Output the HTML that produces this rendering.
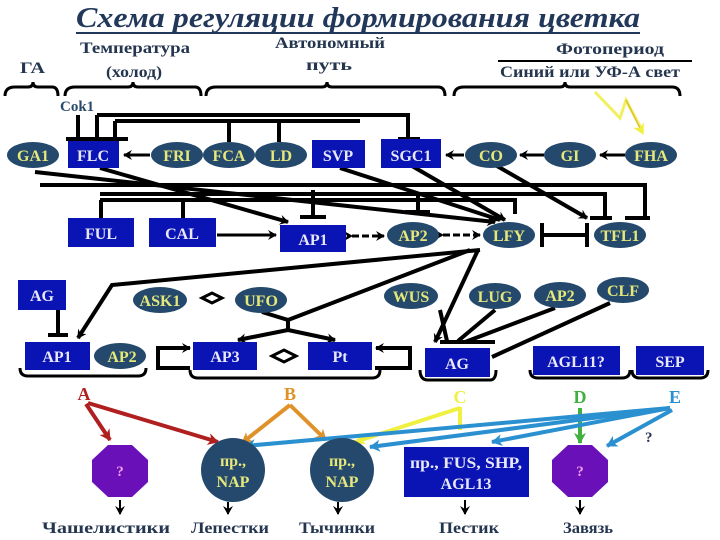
<!DOCTYPE html>
<html><head><meta charset="utf-8"><style>
body{margin:0;background:#fff}
svg{display:block}
text{font-family:"Liberation Serif",serif;font-weight:bold}
.b{fill:#0a14b4}
.e{fill:#24496c}
.wt{fill:#e8e8f8;font-size:16px;text-anchor:middle}
.yt{fill:#e6e87a;font-size:16px;text-anchor:middle}
.lb{fill:#24354f;font-size:16px}
.k{stroke:#000;stroke-width:4;fill:none}
.k3{stroke:#000;stroke-width:3;fill:none}
</style></head><body>
<svg width="720" height="540" viewBox="0 0 720 540">
<defs>
<marker id="ah" markerWidth="10" markerHeight="10" refX="8" refY="5" orient="auto" markerUnits="userSpaceOnUse"><path d="M0,0 L9,5 L0,10 L3,5z" fill="#000"/></marker>
<marker id="ar" markerWidth="12" markerHeight="12" refX="10" refY="6" orient="auto" markerUnits="userSpaceOnUse"><path d="M0,0 L11,6 L0,12 L3,6z" fill="#b02020"/></marker>
<marker id="ao" markerWidth="12" markerHeight="12" refX="10" refY="6" orient="auto" markerUnits="userSpaceOnUse"><path d="M0,0 L11,6 L0,12 L3,6z" fill="#e0922a"/></marker>
<marker id="ay" markerWidth="12" markerHeight="12" refX="10" refY="6" orient="auto" markerUnits="userSpaceOnUse"><path d="M0,0 L11,6 L0,12 L3,6z" fill="#f0f040"/></marker>
<marker id="ab" markerWidth="12" markerHeight="12" refX="10" refY="6" orient="auto" markerUnits="userSpaceOnUse"><path d="M0,0 L11,6 L0,12 L3,6z" fill="#2a90d0"/></marker>
<marker id="ag" markerWidth="12" markerHeight="12" refX="10" refY="6" orient="auto" markerUnits="userSpaceOnUse"><path d="M0,0 L11,6 L0,12 L3,6z" fill="#40b040"/></marker>
</defs>
<!-- title -->
<text x="76" y="27" font-size="29" font-style="italic" fill="#22385a" textLength="564" lengthAdjust="spacingAndGlyphs">Схема регуляции формирования цветка</text>
<line x1="76" y1="33" x2="640" y2="33" stroke="#22385a" stroke-width="2"/>
<text class="lb" x="20" y="73" textLength="25" lengthAdjust="spacingAndGlyphs">ГА</text>
<text class="lb" x="80" y="53" textLength="110" lengthAdjust="spacingAndGlyphs">Температура</text>
<text class="lb" x="106" y="77" textLength="56" lengthAdjust="spacingAndGlyphs">(холод)</text>
<text class="lb" x="275" y="48" textLength="110" lengthAdjust="spacingAndGlyphs">Автономный</text>
<text class="lb" x="306" y="70" textLength="46" lengthAdjust="spacingAndGlyphs">путь</text>
<text class="lb" x="556" y="54" textLength="108" lengthAdjust="spacingAndGlyphs">Фотопериод</text>
<line x1="498" y1="61" x2="692" y2="61" stroke="#000" stroke-width="2"/>
<text class="lb" x="500" y="77" textLength="180" lengthAdjust="spacingAndGlyphs">Синий или УФ-А свет</text>
<!-- braces -->
<g class="k3">
<path d="M5,96 Q5,87 15,87 L28,87 Q33,87 33,82 Q33,87 38,87 L52,87 Q58,87 58,96"/>
<path d="M65,96 Q65,87 75,87 L128,87 Q133,87 133,82 Q133,87 138,87 L195,87 Q201,87 201,96"/>
<path d="M206,96 Q206,87 216,87 L322,87 Q327,87 327,82 Q327,87 332,87 L438,87 Q445,87 445,96"/>
<path d="M454,96 Q454,87 464,87 L560,87 Q565,87 565,82 Q565,87 570,87 L672,87 Q680,87 680,96"/>
</g>
<text x="60" y="111" font-size="15" fill="#2a4a6a">Cok1</text>
<!-- lightning -->
<path d="M595,92 L620,118 L626,100 L643,132" stroke="#f0f060" stroke-width="3" fill="none"/>
<line x1="626" y1="100" x2="643" y2="134" stroke="#e0c030" stroke-width="1.5" marker-end="url(#ay)"/>
<!-- top bars -->
<g class="k">
<path d="M97,115 L408,115 L408,139"/>
<path d="M115,121 L360,121"/>
<line x1="78" y1="115" x2="78" y2="139"/><line x1="97" y1="115" x2="97" y2="139"/><line x1="115" y1="121" x2="115" y2="139"/>
<line x1="66" y1="139" x2="128" y2="139"/>
<line x1="229" y1="121" x2="229" y2="142"/><line x1="279" y1="121" x2="279" y2="142"/>
<line x1="398" y1="139" x2="420" y2="139"/>
</g>
<!-- middle lines -->
<g class="k">
<path d="M40,185 L645,185 L645,218"/>
<line x1="625" y1="218" x2="650" y2="218"/>
<path d="M100,194 L605,194 L605,218"/>
<line x1="590" y1="218" x2="612" y2="218"/>
<path d="M100,200 L515,200 L515,214"/>
<line x1="101" y1="200" x2="101" y2="218"/><line x1="183" y1="200" x2="183" y2="218"/>
<line x1="313" y1="190" x2="313" y2="217"/><line x1="300" y1="217" x2="326" y2="217"/>
<line x1="418" y1="194" x2="418" y2="212"/><line x1="405" y1="212" x2="430" y2="212"/>
<line x1="35" y1="172" x2="495" y2="222" marker-end="url(#ah)"/>
<line x1="100" y1="168" x2="288" y2="222" marker-end="url(#ah)"/>
<line x1="340" y1="168" x2="500" y2="220" marker-end="url(#ah)"/>
<line x1="412" y1="166" x2="505" y2="220" marker-end="url(#ah)"/>
<line x1="497" y1="166" x2="587" y2="218" marker-end="url(#ah)"/>
<line x1="540" y1="235" x2="585" y2="235"/><line x1="542" y1="223" x2="542" y2="247"/><line x1="587" y1="223" x2="587" y2="247"/>
<line x1="217" y1="235" x2="276" y2="235" stroke-width="3" marker-end="url(#ah)"/>
</g>
<g stroke="#000" stroke-width="3" stroke-dasharray="7,3" fill="none">
<line x1="352" y1="236" x2="384" y2="236" marker-end="url(#ah)" marker-start="url(#ah)"/>
<line x1="443" y1="235" x2="480" y2="235" marker-end="url(#ah)" marker-start="url(#ah)"/>
</g>
<!-- arrows row1 -->
<g stroke="#000" stroke-width="3" fill="none">
<line x1="150" y1="155" x2="124" y2="155" marker-end="url(#ah)"/>
<line x1="464" y1="155" x2="446" y2="155" marker-end="url(#ah)"/>
<line x1="544" y1="155" x2="520" y2="155" marker-end="url(#ah)"/>
<line x1="625" y1="155" x2="600" y2="155" marker-end="url(#ah)"/>
</g>
<!-- LFY downstream -->
<g class="k">
<path d="M480,250 L112,285 L78,338" marker-end="url(#ah)"/>
<line x1="470" y1="250" x2="288" y2="320"/>
<path d="M262,312 L288,320 L288,330"/>
<line x1="288" y1="330" x2="238" y2="340" marker-end="url(#ah)"/>
<line x1="288" y1="330" x2="335" y2="340" marker-end="url(#ah)"/>
<line x1="478" y1="250" x2="435" y2="342" marker-end="url(#ah)"/>
<line x1="440" y1="310" x2="447" y2="341"/>
<line x1="495" y1="310" x2="458" y2="341"/>
<line x1="555" y1="308" x2="465" y2="342"/>
<line x1="610" y1="303" x2="492" y2="357"/>
<line x1="440" y1="342" x2="495" y2="342"/>
<line x1="58" y1="310" x2="58" y2="335"/><line x1="48" y1="335" x2="68" y2="335"/>
<path d="M190,368 L158,368 L158,348 L190,348" marker-end="url(#ah)"/>
<path d="M375,368 L410,368 L410,348 L376,348" marker-end="url(#ah)"/>
</g>
<!-- diamonds -->
<path d="M202,298 L212,293 L222,298 L212,303z" fill="#fff" stroke="#000" stroke-width="3"/>
<path d="M272,356 L284,350 L296,356 L284,362z" fill="#fff" stroke="#000" stroke-width="3"/>
<!-- bottom brackets -->
<g class="k3">
<path d="M20,368 Q20,376 28,376 L138,376 Q146,376 146,368"/>
<path d="M190,370 Q190,378 198,378 L372,378 Q380,378 380,370"/>
<path d="M420,370 Q420,380 428,380 L490,380 Q496,380 496,370"/>
<path d="M530,370 Q530,378 538,378 L622,378 Q630,378 630,370"/>
<path d="M632,370 Q632,378 640,378 L700,378 Q708,378 708,370"/>
</g>
<!-- row1 nodes -->
<ellipse class="e" cx="33" cy="155" rx="26" ry="13"/><text class="yt" x="33" y="161">GA1</text>
<rect class="b" x="68" y="141" width="51" height="27"/><text class="wt" x="93" y="161">FLC</text>
<ellipse class="e" cx="177" cy="155" rx="26" ry="13"/><text class="yt" x="177" y="161">FRI</text>
<ellipse class="e" cx="229" cy="155" rx="26" ry="13"/><text class="yt" x="229" y="161">FCA</text>
<ellipse class="e" cx="281" cy="155" rx="26" ry="13"/><text class="yt" x="281" y="161">LD</text>
<rect class="b" x="312" y="140" width="53" height="28"/><text class="wt" x="338" y="161">SVP</text>
<rect class="b" x="381" y="139" width="60" height="29"/><text class="wt" x="411" y="161">SGC1</text>
<ellipse class="e" cx="491" cy="155" rx="26" ry="13"/><text class="yt" x="491" y="161">CO</text>
<ellipse class="e" cx="570" cy="155" rx="26" ry="13"/><text class="yt" x="570" y="161">GI</text>
<ellipse class="e" cx="651" cy="155" rx="26" ry="13"/><text class="yt" x="651" y="161">FHA</text>
<!-- row2 -->
<rect class="b" x="68" y="218" width="66" height="29"/><text class="wt" x="101" y="239">FUL</text>
<rect class="b" x="149" y="218" width="67" height="29"/><text class="wt" x="182" y="239">CAL</text>
<rect class="b" x="280" y="225" width="66" height="27"/><text class="wt" x="313" y="245">AP1</text>
<ellipse class="e" cx="413" cy="235" rx="26" ry="13"/><text class="yt" x="413" y="241">AP2</text>
<ellipse class="e" cx="509" cy="235" rx="26" ry="13"/><text class="yt" x="509" y="241">LFY</text>
<ellipse class="e" cx="620" cy="235" rx="26" ry="13"/><text class="yt" x="620" y="241">TFL1</text>
<!-- row3 -->
<rect class="b" x="18" y="280" width="48" height="30"/><text class="wt" x="42" y="301">AG</text>
<ellipse class="e" cx="160" cy="300" rx="27" ry="13"/><text class="yt" x="160" y="306">ASK1</text>
<ellipse class="e" cx="261" cy="300" rx="26" ry="13"/><text class="yt" x="261" y="306">UFO</text>
<ellipse class="e" cx="411" cy="296" rx="27" ry="13"/><text class="yt" x="411" y="302">WUS</text>
<ellipse class="e" cx="495" cy="296" rx="26" ry="13"/><text class="yt" x="495" y="302">LUG</text>
<ellipse class="e" cx="560" cy="295" rx="26" ry="13"/><text class="yt" x="560" y="301">AP2</text>
<ellipse class="e" cx="623" cy="290" rx="26" ry="13"/><text class="yt" x="623" y="296">CLF</text>
<!-- row4 -->
<rect class="b" x="25" y="342" width="65" height="28"/><text class="wt" x="57" y="362">AP1</text>
<ellipse class="e" cx="120" cy="356" rx="26" ry="13"/><text class="yt" x="122" y="362">AP2</text>
<rect class="b" x="193" y="342" width="64" height="28"/><text class="wt" x="225" y="362">AP3</text>
<rect class="b" x="308" y="342" width="64" height="28"/><text class="wt" x="340" y="362">Pt</text>
<rect class="b" x="425" y="348" width="65" height="29"/><text class="wt" x="457" y="369">AG</text>
<rect class="b" x="533" y="346" width="87" height="29"/><text class="wt" x="576" y="367">AGL11?</text>
<rect class="b" x="636" y="346" width="68" height="29"/><text class="wt" x="670" y="367">SEP</text>
<!-- ABCDE -->
<text x="84" y="400" font-size="18" fill="#b02020" text-anchor="middle">A</text>
<text x="290" y="400" font-size="18" fill="#e0922a" text-anchor="middle">B</text>
<text x="460" y="403" font-size="18" fill="#f0f040" text-anchor="middle">C</text>
<text x="580" y="403" font-size="18" fill="#40b040" text-anchor="middle">D</text>
<text x="675" y="403" font-size="18" fill="#2a90d0" text-anchor="middle">E</text>
<g stroke-width="4" fill="none">
<line x1="86" y1="404" x2="110" y2="440" stroke="#b02020" marker-end="url(#ar)"/>
<line x1="88" y1="403" x2="218" y2="442" stroke="#b02020" marker-end="url(#ar)"/>
<line x1="290" y1="405" x2="242" y2="443" stroke="#e0922a" marker-end="url(#ao)"/>
<line x1="290" y1="405" x2="326" y2="440" stroke="#e0922a" marker-end="url(#ao)"/>
<line x1="460" y1="407" x2="460" y2="430" stroke="#f0f040"/>
<line x1="460" y1="408" x2="355" y2="442" stroke="#f0f040" marker-end="url(#ay)"/>
<line x1="580" y1="408" x2="580" y2="443" stroke="#40b040" marker-end="url(#ag)"/>
<line x1="670" y1="408" x2="245" y2="446" stroke="#2a90d0" marker-end="url(#ab)"/>
<line x1="670" y1="408" x2="370" y2="447" stroke="#2a90d0" marker-end="url(#ab)"/>
<line x1="670" y1="408" x2="492" y2="442" stroke="#2a90d0" marker-end="url(#ab)"/>
<line x1="672" y1="410" x2="607" y2="446" stroke="#2a90d0" marker-end="url(#ab)"/>
</g>
<text x="645" y="442" font-size="15" fill="#24354f">?</text>
<!-- bottom shapes -->
<polygon points="108,445 132,445 148,460 148,482 132,497 108,497 92,482 92,460" fill="#6a10b8"/>
<text x="120" y="476" font-size="15" fill="#f0a0f0" text-anchor="middle">?</text>
<circle cx="233" cy="470" r="32" class="e"/>
<text class="yt" x="233" y="466">пр.,</text><text class="yt" x="233" y="487">NAP</text>
<circle cx="342" cy="470" r="32" class="e"/>
<text class="yt" x="342" y="466">пр.,</text><text class="yt" x="342" y="487">NAP</text>
<rect class="b" x="404" y="447" width="125" height="50"/>
<text class="wt" x="466" y="468" font-size="15" textLength="112" lengthAdjust="spacingAndGlyphs">пр., FUS, SHP,</text>
<text class="wt" x="466" y="489" font-size="15">AGL13</text>
<polygon points="568,445 592,445 608,460 608,482 592,497 568,497 552,482 552,460" fill="#6a10b8"/>
<text x="580" y="476" font-size="15" fill="#f0a0f0" text-anchor="middle">?</text>
<g stroke="#000" stroke-width="2">
<line x1="120" y1="500" x2="120" y2="514" marker-end="url(#ah)"/>
<line x1="228" y1="502" x2="228" y2="514" marker-end="url(#ah)"/>
<line x1="338" y1="502" x2="338" y2="514" marker-end="url(#ah)"/>
<line x1="465" y1="500" x2="465" y2="514" marker-end="url(#ah)"/>
<line x1="580" y1="500" x2="580" y2="514" marker-end="url(#ah)"/>
</g>
<text class="lb" x="42" y="533" textLength="128" lengthAdjust="spacingAndGlyphs">Чашелистики</text>
<text class="lb" x="191" y="533" textLength="78" lengthAdjust="spacingAndGlyphs">Лепестки</text>
<text class="lb" x="299" y="533" textLength="76" lengthAdjust="spacingAndGlyphs">Тычинки</text>
<text class="lb" x="439" y="533" textLength="60" lengthAdjust="spacingAndGlyphs">Пестик</text>
<text class="lb" x="563" y="533" textLength="50" lengthAdjust="spacingAndGlyphs">Завязь</text>
</svg>
</body></html>
